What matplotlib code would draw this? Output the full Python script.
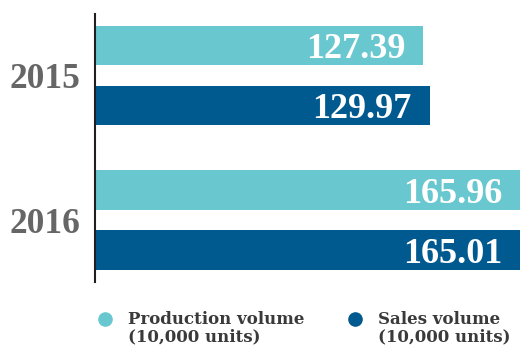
import matplotlib
matplotlib.use("Agg")
import matplotlib.pyplot as plt
from matplotlib.lines import Line2D

years = ["2015", "2016"]
series = ["Production volume", "Sales volume"]
unit = "(10,000 units)"
production = [127.39, 165.96]
sales = [129.97, 165.01]

colors = ["#69c8cf", "#005a8f"]
FONT = "Liberation Serif"

fig = plt.figure(figsize=(5.2, 3.53), dpi=100)
ax = fig.add_axes([94.5 / 520, 1 - 282 / 353, 1 - 94.5 / 520, 268 / 353])

off = 0.2076
h = 0.27
for i, vals in enumerate([production, sales]):
    ys = [g + (-off if i == 0 else off) for g in range(len(years))]
    ax.barh(ys, vals, height=h, color=colors[i], zorder=2)
    for y, v in zip(ys, vals):
        ax.annotate(f"{v:.2f}", (min(v, 165.0), y), xytext=(-18, 0), textcoords="offset pixels",
                    ha="right", va="center_baseline", color="white", fontsize=26,
                    fontweight="bold", family=FONT)

ax.set_xlim(0, 165.0)
ax.set_ylim(1.429, -0.4256)
for s in ["top", "right", "bottom"]:
    ax.spines[s].set_visible(False)
ax.spines["left"].set_color("#231f20")
ax.spines["left"].set_linewidth(1.5)
ax.set_xticks([])
ax.set_yticks(range(len(years)))
ax.set_yticklabels(years, fontsize=25.5, fontweight="bold", color="#666666", family=FONT)
ax.tick_params(axis="y", length=0, pad=10)

# legend
leg_x = [105 / 520, 355 / 520]
for cx, name, col in zip(leg_x, series, colors):
    fig.add_artist(Line2D([cx], [1 - 319 / 353], marker="o", markersize=9.5,
                          color=col, linestyle="none", transform=fig.transFigure))
    fig.text(cx + 23 / 520, 1 - 311 / 353, name + "\n" + unit, ha="left", va="top",
             fontsize=12, fontweight="bold", color="#3a3a3a", family="DejaVu Serif",
             linespacing=1.05)

fig.savefig("out.png", dpi=100)
